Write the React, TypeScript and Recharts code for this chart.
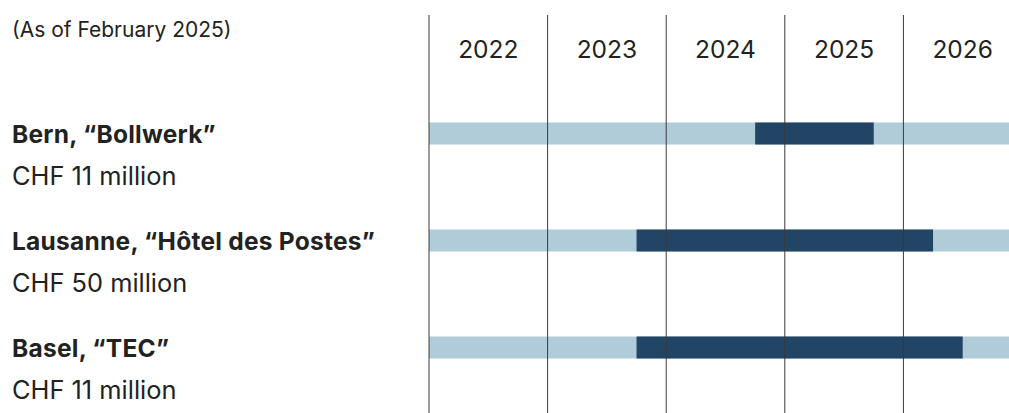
import React from 'react'
import { BarChart, Bar, XAxis, YAxis, ReferenceLine } from 'recharts'

const projects = ['Bern, “Bollwerk”', 'Lausanne, “Hôtel des Postes”', 'Basel, “TEC”']
const amounts = ['CHF 11 million', 'CHF 50 million', 'CHF 11 million']
const startYears = [2024.75, 2023.75, 2023.75]
const endYears = [2025.75, 2026.25, 2026.5]
const years = [2022, 2023, 2024, 2025, 2026]
const timelineStart = 2022
const timelineEnd = 2027
const note = '(As of February 2025)'

const LIGHT = '#b0ccd8'
const DARK = '#224465'
const TEXT = '#222222'
const FONT = 'Inter, "Noto Sans", sans-serif'

const data = projects.map((name, i) => ({
  name,
  amount: amounts[i],
  full: [timelineStart, timelineEnd],
  window: [startYears[i], endYears[i]],
}))

// year label sits in the middle of its column
const yearTicks = years.map((y) => y + 0.5)

function YearTick(props: any) {
  const { x, payload } = props
  return (
    <text x={x} y={58} textAnchor="middle" fontSize={24.5} fill={TEXT} fontFamily={FONT}>
      {Math.floor(payload.value)}
    </text>
  )
}

function ProjectTick(props: any) {
  const { y, index } = props
  return (
    <g>
      <text
        x={12}
        y={y + 10}
        fontSize={24.5}
        fontWeight={700}
        letterSpacing={0.25}
        fill={TEXT}
        fontFamily={FONT}
      >
        {projects[index]}
      </text>
      <text x={12} y={y + 52} fontSize={25.4} fill={TEXT} fontFamily={FONT}>
        {amounts[index]}
      </text>
    </g>
  )
}

export default function App() {
  return (
    <div style={{ position: 'relative', width: 1009, height: 413, overflow: 'hidden', background: '#fff' }}>
      <style>{'body{margin:0}'}</style>
      <div
        style={{
          position: 'absolute',
          left: 12,
          top: 20,
          fontSize: 21,
          lineHeight: '20px',
          color: TEXT,
          fontFamily: FONT,
        }}
      >
        {note}
      </div>
      <BarChart
        width={1022}
        height={413}
        data={data}
        layout="vertical"
        margin={{ top: 14, right: 0, bottom: 0, left: 0 }}
      >
        <XAxis
          type="number"
          orientation="top"
          domain={[timelineStart, timelineEnd]}
          ticks={yearTicks}
          height={1}
          axisLine={false}
          tickLine={false}
          tick={YearTick}
          interval={0}
        />
        <YAxis
          yAxisId="base"
          type="category"
          dataKey="name"
          width={429}
          axisLine={false}
          tickLine={false}
          tick={<ProjectTick />}
          padding={{ top: 64.5, bottom: 12.5 }}
        />
        <YAxis
          yAxisId="top"
          type="category"
          dataKey="name"
          hide
          padding={{ top: 64.5, bottom: 12.5 }}
        />
        <Bar yAxisId="base" dataKey="full" fill={LIGHT} barSize={22} isAnimationActive={false} />
        <Bar yAxisId="top" dataKey="window" fill={DARK} barSize={22} isAnimationActive={false} />
        {years.map((y) => (
          <ReferenceLine
            key={y}
            yAxisId="base"
            x={y}
            stroke="#3a3a3a"
            strokeWidth={1}
            zIndex={600}
          />
        ))}
      </BarChart>
    </div>
  )
}
